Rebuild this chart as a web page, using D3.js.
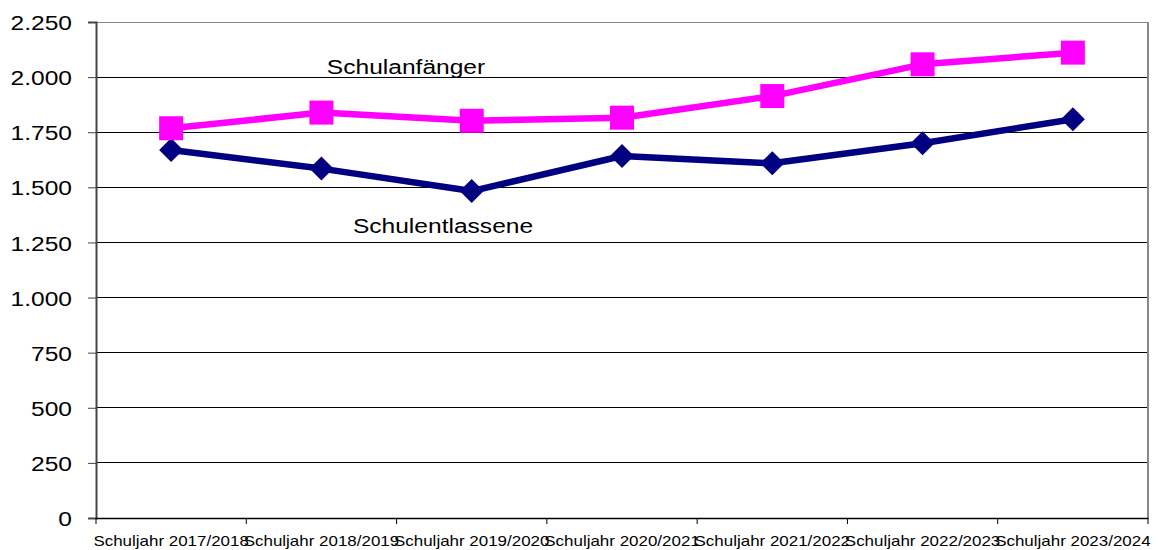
<!DOCTYPE html>
<html><head><meta charset="utf-8">
<script src="https://cdn.jsdelivr.net/npm/d3@7"></script>
<style>body{margin:0;background:#fff;} svg{display:block;font-family:"Liberation Sans",Arial,sans-serif;}</style>
</head><body><svg id="c" width="1159" height="550"></svg>
<script>
const categories = ["Schuljahr 2017/2018","Schuljahr 2018/2019","Schuljahr 2019/2020","Schuljahr 2020/2021","Schuljahr 2021/2022","Schuljahr 2022/2023","Schuljahr 2023/2024"];
const schulanfaenger = [1768, 1839, 1802, 1816, 1914, 2058, 2111];
const schulentlassene = [1669, 1585, 1483, 1642, 1609, 1700, 1809];
const yTicks = [0,250,500,750,1000,1250,1500,1750,2000,2250];
const seriesLabels = ["Schulanfänger","Schulentlassene"];

const svg = d3.select("#c");
const L=96, R=1148, T=22, B=518, SX=1.17;
const x = d3.scaleBand().domain(categories).range([L,R]).padding(0);
const y = d3.scaleLinear().domain([0,2250]).range([B,T]);
const fmt = v => d3.format(",")(v).replace(/,/g,".");
const cx = c => x(c)+x.bandwidth()/2;

// gridlines
svg.append("g").selectAll("line").data(yTicks.filter(v=>v>0)).join("line")
  .attr("x1",L).attr("x2",R).attr("y1",d=>y(d)).attr("y2",d=>y(d))
  .attr("stroke",d=>d===2250?"#888":"#000").attr("stroke-width",1).attr("shape-rendering","crispEdges");
// right border
svg.append("line").attr("x1",R).attr("x2",R).attr("y1",T).attr("y2",B).attr("stroke","#888").attr("stroke-width",2);

// y axis
const ya = svg.append("g").attr("transform",`translate(${L},0)`)
  .call(d3.axisLeft(y).tickValues(yTicks).tickSize(8).tickFormat(fmt));
ya.select(".domain").attr("stroke","#444").attr("stroke-width",2);
ya.selectAll(".tick line").attr("stroke","#444");
ya.selectAll(".tick text").attr("font-size",21).attr("fill","#000")
  .attr("x",-24/SX).attr("dy","0.36em").attr("transform",`scale(${SX},1)`);

// x axis
const xa = svg.append("g").attr("transform",`translate(0,${B})`)
  .call(d3.axisBottom(x).tickSize(0).tickSizeOuter(0));
xa.select(".domain").attr("stroke","#000").attr("stroke-width",1.5);
xa.selectAll(".tick text").attr("font-size",15).attr("fill","#000")
  .attr("y",0).attr("dy",0).attr("transform",`translate(0,28) scale(1.13,1)`);
svg.append("g").selectAll("line").data(categories.concat([null])).join("line")
  .attr("x1",(d,i)=>L+i*x.bandwidth()).attr("x2",(d,i)=>L+i*x.bandwidth())
  .attr("y1",B).attr("y2",B+6).attr("stroke","#000");

// lines
const line = d3.line().x((d,i)=>cx(categories[i])).y(d=>y(d));
svg.append("path").datum(schulentlassene).attr("d",line).attr("fill","none").attr("stroke","#000080").attr("stroke-width",6.5).attr("stroke-linejoin","round");
svg.append("path").datum(schulanfaenger).attr("d",line).attr("fill","none").attr("stroke","#FF00FF").attr("stroke-width",6.5).attr("stroke-linejoin","round");

svg.append("g").selectAll("path").data(schulentlassene).join("path")
  .attr("d","M0,-12L12,0L0,12L-12,0Z").attr("fill","#000080")
  .attr("transform",(d,i)=>`translate(${cx(categories[i])},${y(d)})`);
svg.append("g").selectAll("rect").data(schulanfaenger).join("rect")
  .attr("x",(d,i)=>cx(categories[i])-12).attr("y",d=>y(d)-12).attr("width",24).attr("height",24).attr("fill","#FF00FF");

// labels
svg.append("text").text(seriesLabels[0]).attr("font-size",21).attr("text-anchor","middle")
  .attr("transform",`translate(406,74) scale(${SX},1)`);
svg.append("text").text(seriesLabels[1]).attr("font-size",21).attr("text-anchor","middle")
  .attr("transform",`translate(443,233) scale(${SX},1)`);
</script></body></html>
